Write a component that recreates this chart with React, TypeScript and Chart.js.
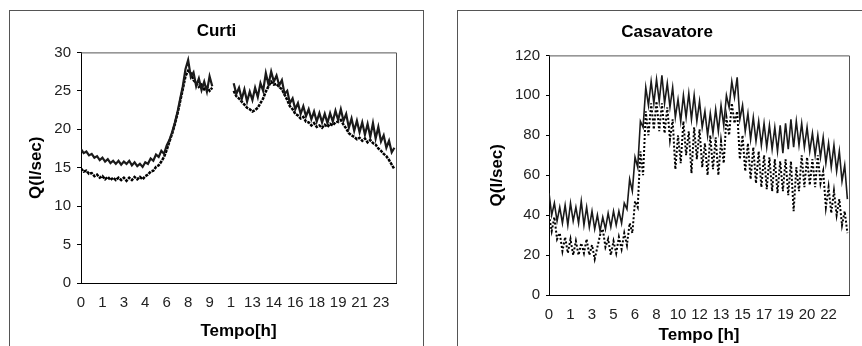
import React, { useEffect, useRef } from "react";
import Chart from "chart.js/auto";

// ---------- Curti ----------
const curtiTickLabels = ["0", "1", "3", "4", "6", "8", "9", "1", "13", "14", "16", "18", "19", "21", "23"];
const curtiUpper: (number | null)[] = [
  17.4, 16.9, 17.1, 16.6, 16.8, 16.3, 16.5, 16.0, 16.3, 15.8,
  16.1, 15.6, 15.9, 15.5, 15.9, 15.4, 15.8, 15.5, 15.9, 15.3,
  15.7, 15.2, 15.5, 15.1, 15.7, 15.5, 16.2, 15.9, 16.7, 16.4,
  17.2, 16.8, 17.9, 18.6, 19.6, 20.8, 22.2, 23.9, 25.6, 27.8,
  29.0, 26.8, 27.4, 25.6, 26.6, 25.1, 26.2, 24.9, 26.9, 25.6,
  null, null, null, null, null, null, null,
  26.0, 24.6, 25.4, 23.9, 25.2, 23.6, 24.9, 23.8, 25.4, 24.2,
  26.0, 25.0, 27.3, 25.8, 27.5, 26.2, 27.0, 25.7, 26.4, 24.6,
  25.0, 23.4, 24.0, 22.6, 23.4, 22.0, 23.0, 21.7, 22.6, 21.3,
  22.3, 21.0, 22.1, 20.9, 22.0, 20.8, 22.1, 21.0, 22.4, 21.2,
  22.6, 21.1, 22.0, 20.2, 21.4, 19.8, 21.1, 19.6, 20.9, 19.3,
  20.7, 19.0, 20.8, 18.8, 20.3, 18.4, 19.2, 17.6, 18.5, 17.0,
  17.6,
];
const curtiLower: (number | null)[] = [
  14.9, 14.5, 14.6, 14.2, 14.3, 13.9, 14.1, 13.7, 13.9, 13.5,
  13.8, 13.4, 13.7, 13.4, 13.7, 13.4, 13.7, 13.3, 13.7, 13.4,
  13.8, 13.5, 13.8, 13.5, 13.9, 14.1, 14.5, 14.6, 15.1, 15.3,
  15.8, 16.4, 17.3, 18.4, 19.4, 20.6, 22.0, 23.6, 25.2, 26.9,
  27.6, 27.3, 26.4, 26.0, 25.5, 25.8, 25.2, 25.5, 25.0, 25.4,
  null, null, null, null, null, null, null,
  25.0, 24.3, 24.0, 23.6, 23.2, 22.8, 22.6, 22.3, 22.5, 22.8,
  23.4, 24.0, 24.9, 25.6, 26.2, 25.8, 25.9, 25.5, 25.2, 24.5,
  23.8, 23.0, 22.6, 22.0, 21.8, 21.4, 21.6, 21.0, 20.9, 20.5,
  20.8, 20.3, 20.5, 20.2, 20.6, 20.3, 20.7, 20.5, 20.9, 21.0,
  21.2, 20.6, 20.1, 19.5, 19.2, 19.0, 18.7, 18.9, 18.5, 18.8,
  18.3, 18.6, 18.2, 18.0, 17.5, 17.2, 16.8, 16.5, 16.0, 15.4,
  14.8,
];

// ---------- Casavatore ----------
const casaTickLabels = ["0", "1", "3", "5", "6", "8", "10", "12", "13", "15", "17", "19", "20", "22"];
const casaUpper: number[] = [
  51, 40, 46, 37, 44, 36, 45, 35, 46, 37,
  44, 36, 47, 35, 44, 34, 42, 33, 40, 32,
  39, 33, 41, 34, 42, 35, 42, 36, 46, 43,
  58, 52, 69, 64, 87, 84, 104, 95, 107, 96,
  108, 97, 110, 96, 106, 94, 104, 89, 98, 87,
  100, 89, 101, 88, 100, 87, 97, 84, 92, 80,
  91, 81, 93, 82, 95, 85, 100, 94, 107, 99,
  109, 88, 95, 82, 91, 78, 89, 77, 87, 75,
  86, 74, 85, 73, 84, 72, 85, 71, 86, 73,
  88, 74, 87, 75, 86, 74, 84, 72, 81, 70,
  80, 69, 79, 66, 76, 64, 75, 62, 72, 57,
  65, 48,
];
const casaLower: number[] = [
  40, 32, 39, 28, 31, 22, 29, 21, 28, 20,
  27, 20, 26, 21, 28, 20, 25, 18, 24, 30,
  33, 24, 28, 20, 27, 21, 29, 23, 31, 25,
  36, 31, 47, 44, 72, 60, 92, 80, 96, 83,
  97, 82, 96, 81, 94, 78, 88, 63, 80, 66,
  87, 70, 82, 61, 84, 68, 83, 64, 76, 60,
  80, 63, 79, 60, 77, 66, 89, 80, 96, 86,
  92, 68, 80, 62, 76, 58, 74, 56, 72, 54,
  70, 53, 69, 52, 68, 51, 67, 52, 68, 50,
  67, 42, 64, 52, 70, 54, 69, 55, 68, 54,
  70, 56, 62, 44, 54, 41, 52, 40, 48, 35,
  42, 31,
];

const FONT = "'Liberation Sans', Arial, Helvetica, sans-serif";

const plotBorder = {
  id: "plotBorder",
  afterDraw(chart: any) {
    const { ctx, chartArea } = chart;
    ctx.save();
    ctx.strokeStyle = "#555";
    ctx.lineWidth = 1;
    ctx.beginPath();
    ctx.moveTo(chartArea.left, chartArea.top + 0.5);
    ctx.lineTo(chartArea.right + 0.5, chartArea.top + 0.5);
    ctx.lineTo(chartArea.right + 0.5, chartArea.bottom);
    ctx.stroke();
    ctx.restore();
  },
};

type PanelProps = {
  width: number;
  height: number;
  title: string;
  upper: (number | null)[];
  lower: (number | null)[];
  tickLabels: string[];
  step: number;
  xMax: number;
  yMax: number;
  yStep: number;
  xTitle: string;
  rightPad: number;
  titlePad: { top: number; bottom: number };
  titleExtend: number;
  yAxisWidth: number;
  yTitlePad: number;
  xAxisHeight: number;
  xTitlePad: number;
  tickLen: number;
  upperWidth: number;
  lowerWidth: number;
  lowerDash: number[];
};

function Panel(p: PanelProps) {
  const ref = useRef<HTMLCanvasElement | null>(null);
  useEffect(() => {
    if (!ref.current) return;
    const toXY = (arr: (number | null)[]) => arr.map((v, i) => ({ x: i, y: v }));
    const titleCenter = {
      id: "titleCenter",
      afterLayout(chart: any) {
        if (chart.titleBlock) chart.titleBlock.right += p.titleExtend;
      },
    };
    const chart = new Chart(ref.current, {
      type: "line",
      data: {
        datasets: [
          {
            data: toXY(p.upper) as any,
            borderColor: "#1a1a1a",
            borderWidth: p.upperWidth,
            pointRadius: 0,
            spanGaps: false,
          },
          {
            data: toXY(p.lower) as any,
            borderColor: "#000",
            borderWidth: p.lowerWidth,
            borderDash: p.lowerDash,
            pointRadius: 0,
            spanGaps: false,
          },
        ],
      },
      options: {
        responsive: false,
        animation: false,
        devicePixelRatio: 1,
        layout: { padding: { left: 0, right: p.rightPad, top: 0, bottom: 0 } },
        plugins: {
          legend: { display: false },
          tooltip: { enabled: false },
          title: {
            display: true,
            text: p.title,
            color: "#000",
            font: { family: FONT, size: 17, weight: "bold" },
            padding: p.titlePad,
          },
        },
        scales: {
          x: {
            type: "linear",
            min: 0,
            max: p.xMax,
            afterBuildTicks: (scale: any) => {
              scale.ticks = p.tickLabels.map((_, j) => ({ value: j * p.step }));
            },
            afterFit: (scale: any) => {
              scale.height = p.xAxisHeight;
            },
            ticks: {
              autoSkip: false,
              maxRotation: 0,
              minRotation: 0,
              padding: 11,
              color: "#222",
              font: { family: FONT, size: 15 },
              callback: (_v: any, idx: number) => p.tickLabels[idx],
            },
            grid: { display: false, drawTicks: false },
            border: { display: true, color: "#000", width: 1 },
            title: {
              display: true,
              text: p.xTitle,
              color: "#000",
              font: { family: FONT, size: 17, weight: "bold" },
              padding: { top: 0, bottom: p.xTitlePad },
            },
          },
          y: {
            min: 0,
            max: p.yMax,
            afterFit: (scale: any) => {
              scale.width = p.yAxisWidth;
            },
            ticks: {
              stepSize: p.yStep,
              padding: 6,
              color: "#222",
              font: { family: FONT, size: 15 },
            },
            grid: {
              drawOnChartArea: false,
              drawTicks: true,
              tickLength: p.tickLen,
              color: "#000",
            },
            border: { display: true, color: "#000", width: 1 },
            title: {
              display: true,
              text: "Q(l/sec)",
              color: "#000",
              font: { family: FONT, size: 17, weight: "bold" },
              padding: { top: p.yTitlePad, bottom: 0 },
            },
          },
        },
      },
      plugins: [plotBorder, titleCenter],
    } as any);
    return () => chart.destroy();
  }, []);
  return <canvas ref={ref} width={p.width} height={p.height} style={{ display: "block" }} />;
}

export default function App() {
  return (
    <div
      style={{
        position: "fixed",
        left: 0,
        top: 0,
        width: 862,
        height: 346,
        overflow: "hidden",
        background: "#fff",
      }}
    >
      <div
        style={{
          position: "absolute",
          left: 9,
          top: 10,
          width: 413,
          height: 360,
          border: "1px solid #555",
        }}
      >
        <Panel
          width={413}
          height={335}
          title="Curti"
          upper={curtiUpper}
          lower={curtiLower}
          tickLabels={curtiTickLabels}
          step={8}
          xMax={117.6}
          yMax={30}
          yStep={5}
          xTitle="Tempo[h]"
          rightPad={27}
          titlePad={{ top: 10, bottom: 11 }}
          titleExtend={27}
          yAxisWidth={71}
          yTitlePad={16}
          xAxisHeight={63}
          xTitlePad={4}
          tickLen={4}
          upperWidth={2.2}
          lowerWidth={2.5}
          lowerDash={[3, 1]}
        />
      </div>
      <div
        style={{
          position: "absolute",
          left: 457,
          top: 10,
          width: 420,
          height: 360,
          border: "1px solid #555",
        }}
      >
        <Panel
          width={404}
          height={335}
          title="Casavatore"
          upper={casaUpper}
          lower={casaLower}
          tickLabels={casaTickLabels}
          step={8}
          xMax={111.6}
          yMax={120}
          yStep={20}
          xTitle="Tempo [h]"
          rightPad={13}
          titlePad={{ top: 11, bottom: 13 }}
          titleExtend={27}
          yAxisWidth={91}
          yTitlePad={29}
          xAxisHeight={51}
          xTitlePad={0}
          tickLen={3}
          upperWidth={1.6}
          lowerWidth={2}
          lowerDash={[2, 2]}
        />
      </div>
    </div>
  );
}
